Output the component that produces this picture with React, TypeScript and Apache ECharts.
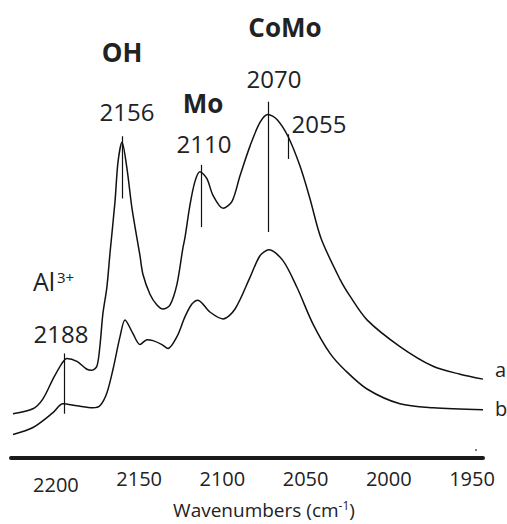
import React, { useEffect, useRef } from "react";
import * as echarts from "echarts";

// Wavenumber (cm-1) values and relative absorbance
const waveA = [2225.8, 2213.8, 2207.8, 2201.8, 2196.4, 2193.4, 2187.4, 2181.4, 2178.4, 2175.4, 2173.6, 2171.8, 2169.4, 2167.5, 2164.5, 2162.7, 2160.3, 2157.3, 2154.3, 2149.5, 2147.7, 2143.5, 2139.3, 2135.7, 2131.5, 2127.3, 2123.7, 2122.5, 2119.5, 2116.5, 2113.5, 2109.3, 2105.6, 2099.6, 2094.2, 2089.4, 2083.4, 2077.4, 2072.6, 2067.2, 2060.6, 2053.4, 2047.4, 2040.8, 2029.3, 2023.3, 2013.1, 1993.3, 1973.4, 1957.2, 1943.4];
const absA = [0.45, 0.50, 0.60, 0.80, 0.96, 1.01, 0.98, 0.90, 0.89, 0.93, 1.13, 1.46, 1.73, 2.08, 2.60, 3.00, 3.20, 2.93, 2.53, 2.05, 1.86, 1.66, 1.55, 1.51, 1.55, 1.76, 2.13, 2.23, 2.56, 2.80, 2.90, 2.83, 2.66, 2.53, 2.60, 2.86, 3.16, 3.40, 3.48, 3.43, 3.26, 2.96, 2.63, 2.23, 1.81, 1.64, 1.40, 1.13, 0.93, 0.85, 0.80];

const waveB = [2225.8, 2213.8, 2201.8, 2195.8, 2187.4, 2177.8, 2173.6, 2169.4, 2165.7, 2161.5, 2158.5, 2153.7, 2149.5, 2145.3, 2141.7, 2136.3, 2132.7, 2127.3, 2122.5, 2118.3, 2114.7, 2107.5, 2099.6, 2092.4, 2083.4, 2077.4, 2072.0, 2063.6, 2055.2, 2045.6, 2035.3, 2026.3, 2013.1, 1993.3, 1973.4, 1943.4];
const absB = [0.24, 0.31, 0.46, 0.55, 0.53, 0.51, 0.53, 0.66, 0.90, 1.23, 1.40, 1.26, 1.15, 1.20, 1.19, 1.15, 1.11, 1.23, 1.43, 1.56, 1.60, 1.48, 1.41, 1.51, 1.83, 2.05, 2.11, 2.00, 1.73, 1.36, 1.06, 0.89, 0.70, 0.55, 0.51, 0.49];

// Peak marker segments: position, top, bottom
const markX = [2195.2, 2160.3, 2112.9, 2072.6, 2060.6];
const markTop = [1.06, 3.26, 2.97, 3.61, 3.28];
const markBottom = [0.45, 2.63, 2.34, 2.29, 3.03];

const tickValues = [2200, 2150, 2100, 2050, 2000, 1950];

const FONT = '"Open Sans", "Noto Sans", sans-serif';
const TXT = "#222";

export default function App() {
  const ref = useRef<HTMLDivElement>(null);
  useEffect(() => {
    if (!ref.current) return;
    const chart = echarts.init(ref.current, undefined, { renderer: "svg" });
    const text = (t: string, x: number, y: number, size: number, bold = false, align = "center") => ({
      type: "text",
      x,
      y,
      style: {
        text: t,
        fill: TXT,
        font: `${bold ? "bold " : ""}${size}px ${FONT}`,
        textAlign: align,
        verticalAlign: "middle",
      },
    });
    chart.setOption({
      animation: false,
      grid: { left: 11, right: 24, top: 0, bottom: 60 },
      xAxis: {
        type: "value",
        inverse: true,
        min: 1943.4,
        max: 2227,
        axisLine: { show: true, lineStyle: { color: "#1a1a1a", width: 4 } },
        axisTick: { show: false },
        splitLine: { show: false },
        axisLabel: {
          customValues: tickValues,
          margin: 10,
          color: TXT,
          fontSize: 20,
          fontFamily: FONT,
          formatter: (v: number) => (v === 2200 ? "{low|" + v + "}" : String(v)),
          rich: { low: { fontSize: 20, fontFamily: FONT, color: TXT, padding: [6, 0, 0, 0] } },
        },
        name: "Wavenumbers (cm{sup|-1})",
        nameLocation: "middle",
        nameGap: 36,
        nameTextStyle: {
          color: TXT,
          fontSize: 19,
          fontFamily: FONT,
          padding: [0, 0, 0, 34],
          rich: { sup: { fontSize: 12, fontFamily: FONT, color: TXT, padding: [0, 0, 9, 0] } },
        },
      },
      yAxis: { type: "value", show: false, min: 0, max: 4.64 },
      series: [
        {
          name: "a",
          type: "line",
          data: waveA.map((w, i) => [w, absA[i]]),
          showSymbol: false,
          smooth: 0.3,
          lineStyle: { color: "#111", width: 1.5 },
          markLine: {
            silent: true,
            symbol: "none",
            label: { show: false },
            lineStyle: { color: "#111", width: 1.2, type: "solid" },
            data: markX.map((x, i) => [{ coord: [x, markTop[i]] }, { coord: [x, markBottom[i]] }]),
          },
        },
        {
          name: "b",
          type: "line",
          data: waveB.map((w, i) => [w, absB[i]]),
          showSymbol: false,
          smooth: 0.3,
          lineStyle: { color: "#111", width: 1.5 },
        },
      ],
      graphic: [
        text("CoMo", 285, 27, 26, true),
        text("OH", 122, 52, 26, true),
        text("Mo", 203, 103, 26, true),
        text("2070", 274, 78, 24),
        text("2156", 127, 111, 24),
        text("2055", 319, 123, 24),
        text("2110", 204, 143, 24),
        text("Al", 33, 281, 25, false, "left"),
        text("3+", 57, 277, 15, false, "left"),
        text("2188", 61, 333, 24),
        text("a", 495, 369, 20, false, "left"),
        text("b", 495, 408, 20, false, "left"),
        { type: "circle", shape: { cx: 476, cy: 450, r: 0.8 }, style: { fill: "#333" } },
      ],
    });
    return () => chart.dispose();
  }, []);
  return (
    <div
      ref={ref}
      style={{ position: "fixed", left: 0, top: 0, width: 507, height: 524, background: "#fff" }}
    />
  );
}
